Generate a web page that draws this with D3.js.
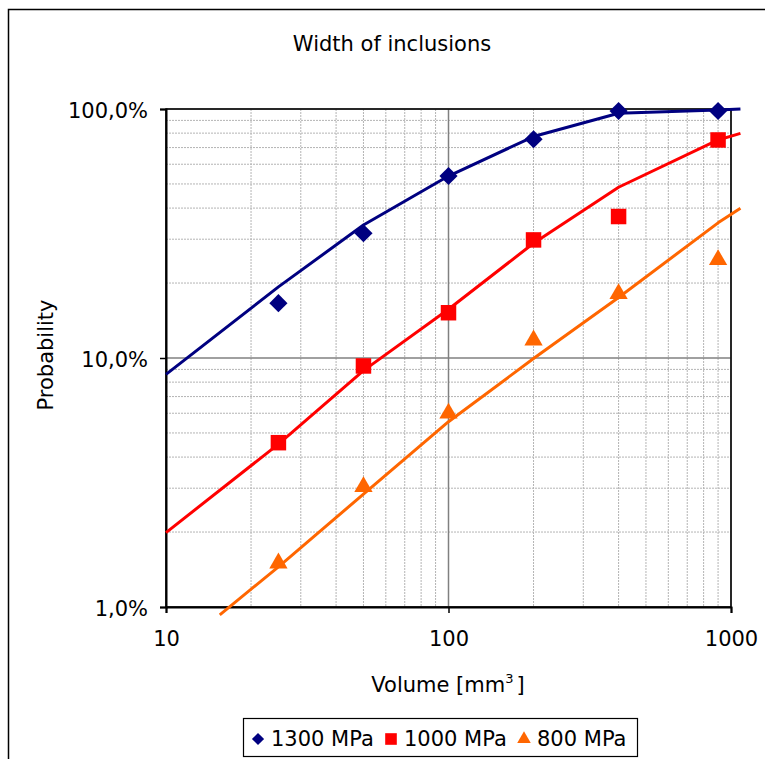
<html>
  <meta charset="utf-8" />
  <script src="https://d3js.org/d3.v7.min.js"></script>
  <style>
    body { margin: 0; background: #fff; }
    svg text { font-family: "DejaVu Sans", Verdana, sans-serif; fill: #000; }
  </style>
  <body>
    <svg width="765" height="759" id="chart"></svg>
    <script>
      // measured points
      const volumes = [25, 50, 100, 200, 400, 900];
      const p1300 = [16.6, 31.7, 53.8, 75.6, 98.2, 98.2];
      const p1000 = [4.57, 9.29, 15.2, 29.8, 37.0, 75.1];
      const p800 = [1.5, 3.04, 6.0, 11.8, 18.1, 24.8];

      // fitted curves
      const fitV = [10, 25, 50, 100, 200, 400, 900, 1080];
      const fit1300 = [8.6, 19.3, 34.2, 53.8, 77.5, 96.1, 99.1, 100];
      const fit1000 = [1.99, 4.51, 8.9, 15.7, 28.9, 48.5, 75.1, 79.8];
      const fit800V = [15.5, 25, 50, 100, 200, 400, 900, 1080];
      const fit800 = [0.93, 1.45, 2.84, 5.55, 9.95, 17.5, 34.9, 39.9];

      const xTicks = [10, 100, 1000];
      const xTickLabels = ["10", "100", "1000"];
      const yTicks = [1, 10, 100];
      const yTickLabels = ["1,0%", "10,0%", "100,0%"];

      const seriesNames = ["1300 MPa", "1000 MPa", "800 MPa"];
      const colors = ["#000080", "#ff0000", "#ff6600"];

      const plotLeft = 166, plotRight = 731, plotTop = 109, plotBottom = 607;
      const fontSize = 21;

      const x = d3.scaleLog().domain([10, 1000]).range([plotLeft, plotRight]);
      const y = d3.scaleLog().domain([1, 100]).range([plotBottom, plotTop]);

      const svg = d3.select("#chart");

      // outer chart border (cut off by the picture at right/bottom)
      svg.append("rect")
        .attr("x", 8.5).attr("y", 9.5)
        .attr("width", 820).attr("height", 820)
        .attr("fill", "none").attr("stroke", "#000").attr("stroke-width", 1.5);

      // minor grid
      const minorX = [];
      [10, 100].forEach((d) => { for (let k = 2; k <= 9; k++) minorX.push(d * k); });
      const minorY = [];
      [1, 10].forEach((d) => { for (let k = 2; k <= 9; k++) minorY.push(d * k); });

      const grid = svg.append("g");
      grid.selectAll(".mx").data(minorX).enter().append("line")
        .attr("x1", (d) => x(d)).attr("x2", (d) => x(d))
        .attr("y1", plotTop).attr("y2", plotBottom)
        .attr("stroke", "#b4b4b4").attr("stroke-width", 1)
        .attr("stroke-dasharray", "2,1");
      grid.selectAll(".my").data(minorY).enter().append("line")
        .attr("y1", (d) => y(d)).attr("y2", (d) => y(d))
        .attr("x1", plotLeft).attr("x2", plotRight)
        .attr("stroke", "#b4b4b4").attr("stroke-width", 1)
        .attr("stroke-dasharray", "2,1");
      // major grid
      grid.selectAll(".Mx").data(xTicks).enter().append("line")
        .attr("x1", (d) => x(d)).attr("x2", (d) => x(d))
        .attr("y1", plotTop).attr("y2", plotBottom)
        .attr("stroke", "#808080").attr("stroke-width", 1.5);
      grid.selectAll(".My").data(yTicks).enter().append("line")
        .attr("y1", (d) => y(d)).attr("y2", (d) => y(d))
        .attr("x1", plotLeft).attr("x2", plotRight)
        .attr("stroke", "#808080").attr("stroke-width", 1.5);

      // plot area border
      svg.append("rect")
        .attr("x", plotLeft).attr("y", plotTop)
        .attr("width", plotRight - plotLeft).attr("height", plotBottom - plotTop)
        .attr("fill", "none").attr("stroke", "#000").attr("stroke-width", 1.5);

      // axes
      const yAxis = svg.append("g")
        .attr("transform", `translate(${plotLeft},0)`)
        .call(d3.axisLeft(y).tickValues(yTicks).tickSize(6).tickPadding(12)
          .tickFormat((d, i) => yTickLabels[i]));
      const xAxis = svg.append("g")
        .attr("transform", `translate(0,${plotBottom})`)
        .call(d3.axisBottom(x).tickValues(xTicks).tickSize(6).tickPadding(18)
          .tickFormat((d, i) => xTickLabels[i]));
      [yAxis, xAxis].forEach((a) => {
        a.select(".domain").attr("stroke", "#000").attr("stroke-width", 2);
        a.selectAll(".tick line").attr("stroke", "#000").attr("stroke-width", 1.5);
        a.selectAll("text").attr("font-size", fontSize).attr("font-family", null);
      });
      yAxis.selectAll("text").attr("dy", "0.4em");

      // fitted lines
      const line = d3.line().x((d) => x(d[0])).y((d) => y(d[1]));
      const fits = [
        d3.zip(fitV, fit1300),
        d3.zip(fitV, fit1000),
        d3.zip(fit800V, fit800),
      ];
      fits.forEach((f, i) => {
        svg.append("path")
          .attr("d", line(f))
          .attr("fill", "none")
          .attr("stroke", colors[i])
          .attr("stroke-width", 3)
          .attr("stroke-linejoin", "round");
      });

      // markers
      const shapes = [
        { type: d3.symbolSquare, size: 165, rot: 45, legendSize: 75 },
        { type: d3.symbolSquare, size: 240, rot: 0, legendSize: 135 },
        { type: d3.symbolTriangle, size: 145, rot: 0, legendSize: 80 },
      ];
      const points = [p1300, p1000, p800];
      points.forEach((p, i) => {
        svg.append("g").selectAll("path")
          .data(d3.zip(volumes, p))
          .enter().append("path")
          .attr("d", d3.symbol().type(shapes[i].type).size(shapes[i].size))
          .attr("transform", (d) => `translate(${x(d[0])},${y(d[1])}) rotate(${shapes[i].rot})`)
          .attr("fill", colors[i]);
      });

      // title and axis titles
      svg.append("text")
        .attr("x", 392).attr("y", 51)
        .attr("text-anchor", "middle")
        .attr("font-size", fontSize)
        .text("Width of inclusions");

      const xt = svg.append("text")
        .attr("x", 448).attr("y", 692)
        .attr("text-anchor", "middle")
        .attr("font-size", fontSize);
      xt.append("tspan").text("Volume [mm");
      xt.append("tspan").attr("font-size", 13).attr("dy", -9).text("3");
      xt.append("tspan").attr("dy", 9).attr("dx", 3).text("]");

      svg.append("text")
        .attr("transform", "translate(53,355) rotate(-90)")
        .attr("text-anchor", "middle")
        .attr("font-size", fontSize)
        .text("Probability");

      // legend
      const legend = svg.append("g");
      legend.append("rect")
        .attr("x", 243.5).attr("y", 718.5)
        .attr("width", 394).attr("height", 38)
        .attr("fill", "#fff").attr("stroke", "#000").attr("stroke-width", 1.2);
      const legendX = [258, 391, 524];
      seriesNames.forEach((name, i) => {
        legend.append("path")
          .attr("d", d3.symbol().type(shapes[i].type).size(shapes[i].legendSize))
          .attr("transform", `translate(${legendX[i]},739) rotate(${shapes[i].rot})`)
          .attr("fill", colors[i]);
        legend.append("text")
          .attr("x", legendX[i] + 13).attr("y", 746)
          .attr("font-size", fontSize)
          .text(name);
      });
    </script>
  </body>
</html>
